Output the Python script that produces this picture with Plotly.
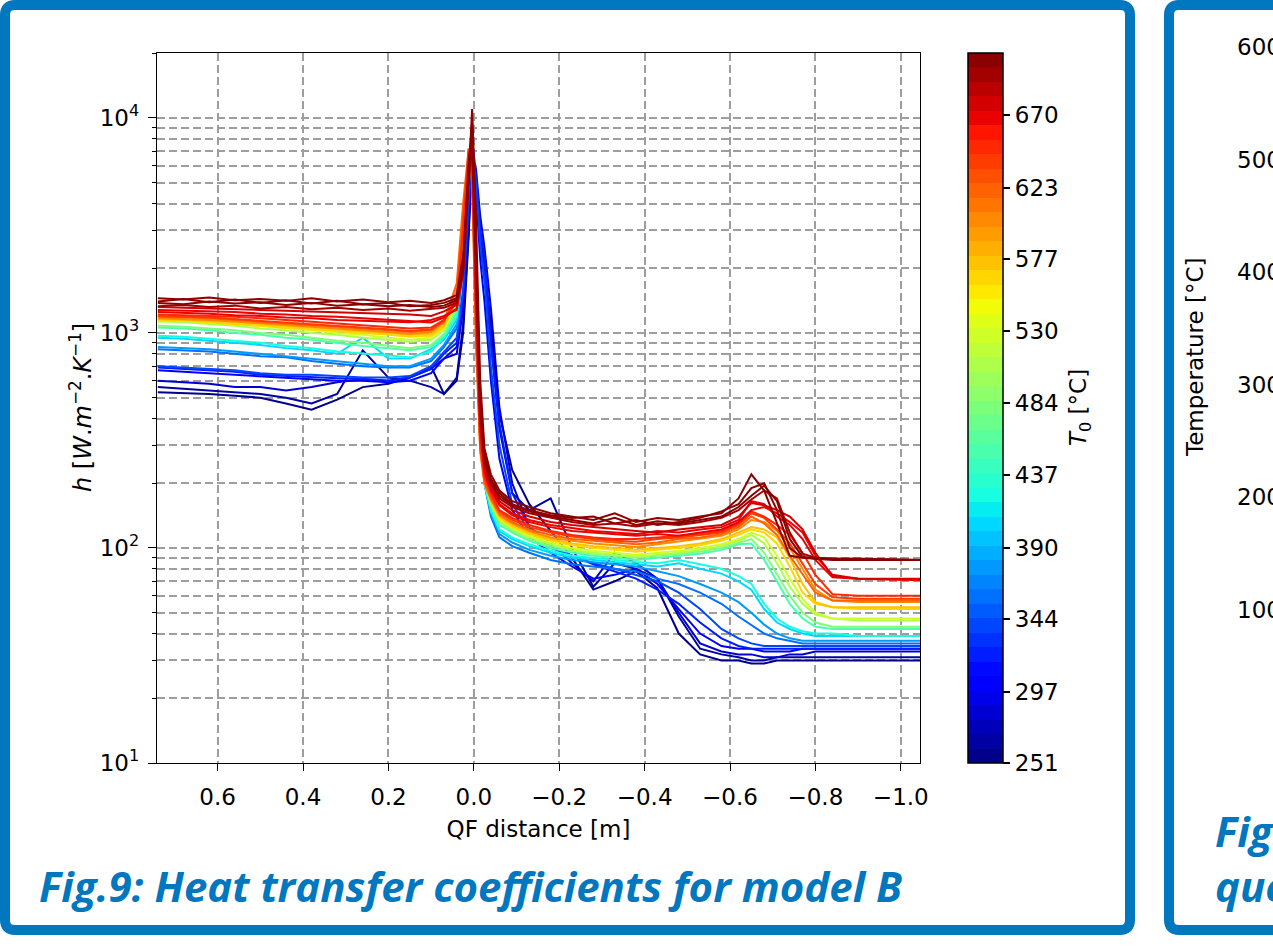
import plotly.graph_objects as go

# ---------------- data ----------------
X_DIST = [0.74, 0.68, 0.62, 0.56, 0.50, 0.44, 0.38, 0.32, 0.26, 0.20, 0.15, 0.10, 0.07,
          0.04, 0.025, 0.012, 0.004, -0.005, -0.015, -0.025, -0.04, -0.06, -0.09,
          -0.13, -0.18, -0.23, -0.28, -0.33, -0.38, -0.43, -0.48, -0.53, -0.58,
          -0.62, -0.65, -0.68, -0.71, -0.74, -0.77, -0.80, -0.84, -0.90, -1.05]

T0_VALUES = [709, 706, 702, 698, 676, 670, 664, 650, 638, 618, 604, 578, 566,
             532, 512, 476, 455, 425, 405, 378, 360, 338, 322, 305, 288, 268, 251]

H_709 = [1450, 1430, 1460, 1420, 1440, 1410, 1450, 1400, 1430, 1390, 1410, 1380, 1420,
         1500, 2300, 5200, 11000, 3500, 600, 290, 220, 185, 165,
         155, 145, 140, 135, 145, 132, 138, 135, 140, 145,
         170, 220, 185, 130, 92, 90, 90, 89, 89, 88]
H_706 = [1400, 1440, 1390, 1430, 1380, 1420, 1370, 1410, 1360, 1380, 1330, 1350, 1380,
         1450, 2100, 6000, 9500, 2500, 480, 270, 210, 180, 160,
         150, 142, 138, 140, 130, 135, 128, 132, 138, 148,
         160, 190, 200, 150, 100, 90, 89, 89, 89, 88]
H_702 = [1380, 1360, 1400, 1370, 1390, 1350, 1380, 1340, 1360, 1330, 1350, 1320, 1340,
         1420, 2000, 5500, 8800, 2200, 450, 260, 205, 175, 158,
         148, 140, 135, 130, 138, 128, 133, 130, 135, 140,
         155, 175, 195, 165, 110, 91, 89, 88, 88, 88]
H_698 = [1330, 1350, 1320, 1340, 1300, 1320, 1290, 1310, 1280, 1300, 1270, 1290, 1310,
         1380, 1900, 4800, 8000, 2000, 420, 250, 200, 170, 155,
         145, 138, 132, 128, 130, 126, 130, 128, 132, 138,
         150, 168, 185, 170, 118, 94, 90, 89, 88, 88]
H_676 = [1320, 1310, 1300, 1300, 1280, 1270, 1260, 1250, 1240, 1230, 1220, 1200, 1260,
         1350, 2100, 6200, 8500, 1800, 400, 240, 195, 165, 150,
         140, 132, 128, 125, 122, 120, 118, 122, 125, 128,
         140, 162, 158, 150, 140, 122, 95, 74, 72, 72]
H_670 = [1280, 1270, 1260, 1250, 1230, 1220, 1200, 1190, 1170, 1150, 1130, 1120, 1180,
         1300, 2000, 5800, 7800, 1600, 380, 230, 190, 160, 145,
         135, 128, 124, 120, 118, 116, 120, 118, 122, 125,
         135, 165, 160, 140, 128, 110, 88, 73, 72, 71]
H_664 = [1250, 1240, 1230, 1210, 1200, 1180, 1170, 1150, 1140, 1130, 1120, 1150, 1200,
         1280, 1900, 5500, 7500, 1500, 360, 225, 185, 158, 142,
         132, 125, 120, 118, 116, 114, 116, 114, 118, 122,
         132, 150, 155, 145, 132, 118, 92, 75, 72, 71]
H_650 = [1220, 1210, 1200, 1190, 1170, 1150, 1130, 1110, 1090, 1070, 1050, 1060, 1150,
         1400, 3000, 7000, 6500, 1200, 320, 215, 180, 150, 138,
         128, 120, 115, 112, 110, 110, 112, 114, 116, 120,
         130, 148, 140, 128, 115, 95, 75, 61, 60, 60]
H_638 = [1200, 1190, 1180, 1160, 1140, 1120, 1100, 1080, 1060, 1040, 1020, 1040, 1140,
         1450, 3200, 7200, 6000, 1100, 300, 210, 175, 148, 135,
         125, 118, 113, 110, 108, 107, 110, 112, 115, 118,
         128, 145, 138, 122, 105, 85, 68, 59, 58, 58]
H_618 = [1190, 1180, 1170, 1150, 1130, 1110, 1090, 1070, 1050, 1030, 1010, 1030, 1130,
         1700, 4000, 7200, 5000, 900, 280, 200, 170, 145, 132,
         122, 115, 110, 108, 106, 104, 106, 110, 112, 116,
         125, 140, 130, 115, 92, 75, 62, 57, 57, 57]
H_604 = [1170, 1160, 1150, 1130, 1110, 1090, 1070, 1050, 1030, 1010, 990, 1010, 1110,
         1600, 3500, 6800, 5500, 1000, 290, 200, 168, 142, 130,
         120, 112, 108, 105, 103, 101, 104, 107, 110, 114,
         122, 135, 132, 120, 100, 80, 64, 57, 56, 56]
H_578 = [1160, 1150, 1140, 1120, 1100, 1080, 1060, 1040, 1020, 1000, 980, 990, 1080,
         1500, 3200, 6500, 6000, 1100, 300, 205, 168, 140, 128,
         118, 110, 105, 102, 100, 98, 100, 102, 105, 110,
         118, 125, 122, 112, 90, 68, 56, 53, 53, 53]
H_566 = [1150, 1140, 1120, 1100, 1080, 1060, 1040, 1020, 1000, 980, 960, 970, 1060,
         1450, 3000, 6200, 6200, 1200, 310, 205, 165, 138, 126,
         116, 108, 103, 100, 98, 96, 98, 100, 103, 108,
         115, 122, 118, 105, 82, 62, 55, 53, 52, 52]
H_532 = [1150, 1140, 1120, 1100, 1080, 1050, 1030, 1000, 980, 950, 930, 950, 1050,
         1400, 2800, 6000, 6500, 1300, 320, 205, 165, 136, 124,
         114, 106, 100, 97, 95, 93, 95, 97, 100, 104,
         110, 118, 112, 92, 72, 58, 50, 47, 47, 47]
H_512 = [1130, 1120, 1100, 1080, 1050, 1030, 1000, 980, 950, 930, 910, 930, 1030,
         1350, 2700, 5800, 6800, 1400, 330, 205, 162, 134, 122,
         112, 104, 98, 95, 93, 91, 93, 95, 98, 102,
         108, 115, 105, 85, 66, 55, 49, 47, 46, 46]
H_476 = [1080, 1070, 1050, 1030, 1000, 980, 950, 920, 900, 870, 850, 880, 990,
         1300, 2600, 5500, 7000, 1500, 330, 200, 160, 132, 120,
         110, 102, 97, 94, 92, 90, 92, 94, 96, 100,
         106, 110, 95, 75, 60, 50, 45, 43, 43, 43]
H_455 = [1060, 1050, 1030, 1000, 980, 950, 930, 900, 870, 850, 830, 860, 970,
         1250, 2500, 5200, 7200, 1600, 340, 200, 158, 128, 118,
         108, 100, 95, 92, 90, 88, 90, 92, 94, 98,
         104, 105, 88, 70, 55, 47, 43, 42, 42, 42]
H_425 = [970, 960, 940, 920, 900, 870, 850, 820, 800, 780, 770, 820, 950,
         1200, 2400, 5200, 7300, 1800, 350, 200, 150, 122, 112,
         104, 97, 92, 90, 88, 86, 85, 88, 84, 80,
         74, 68, 55, 47, 43, 41, 40, 40, 39, 39]
H_405 = [950, 940, 920, 900, 880, 850, 830, 800, 950, 760, 760, 840, 930,
         1150, 2300, 5000, 7500, 2000, 370, 200, 148, 120, 110,
         102, 95, 90, 88, 86, 84, 82, 85, 80, 76,
         70, 64, 52, 45, 42, 40, 39, 39, 39, 39]
H_378 = [860, 850, 840, 820, 800, 780, 760, 740, 720, 700, 700, 760, 880,
         1100, 2200, 5000, 7600, 2200, 400, 200, 145, 116, 106,
         98, 92, 88, 86, 84, 82, 78, 74, 68, 62,
         56, 50, 44, 40, 38, 37, 37, 37, 37, 37]
H_360 = [840, 830, 820, 800, 780, 770, 740, 720, 700, 690, 690, 740, 860,
         1050, 2100, 4800, 7800, 2400, 420, 200, 140, 112, 102,
         95, 88, 84, 82, 80, 78, 72, 68, 62, 55,
         48, 44, 40, 38, 37, 36, 36, 36, 36, 36]
H_338 = [700, 690, 680, 670, 650, 640, 640, 630, 620, 620, 630, 700, 820,
         950, 1600, 4000, 7500, 5000, 2600, 1800, 700, 300, 160,
         120, 100, 92, 85, 80, 75, 70, 62, 52, 42,
         38, 36, 35, 35, 35, 35, 35, 35, 35, 35]
H_322 = [690, 680, 670, 660, 640, 630, 620, 615, 610, 600, 620, 680, 800,
         900, 1500, 3800, 8000, 5500, 3000, 2300, 900, 380, 180,
         125, 102, 92, 84, 78, 72, 64, 55, 45, 38,
         35, 34, 34, 34, 34, 34, 34, 34, 34, 34]
H_305 = [670, 660, 650, 640, 630, 620, 610, 600, 600, 590, 600, 650, 760,
         860, 1400, 3500, 7000, 4500, 2200, 1400, 600, 260, 150,
         112, 95, 82, 72, 75, 80, 68, 52, 40, 35,
         34, 34, 33, 33, 33, 34, 34, 34, 34, 34]
H_288 = [600, 590, 580, 560, 560, 540, 560, 590, 610, 600, 620, 680, 760,
         800, 1300, 3200, 6500, 5800, 3500, 2500, 1300, 450, 200,
         125, 105, 85, 70, 95, 85, 72, 50, 36, 33,
         32, 32, 31, 31, 32, 32, 33, 33, 33, 33]
H_268 = [560, 550, 540, 530, 520, 500, 470, 520, 830, 620, 600, 560, 520,
         620, 1100, 3000, 6800, 4800, 2600, 1800, 900, 360, 180,
         150, 170, 100, 66, 85, 80, 72, 48, 34, 32,
         31, 30, 30, 31, 31, 31, 31, 31, 31, 31]
H_251 = [530, 525, 520, 510, 500, 470, 440, 490, 560, 580, 620, 700, 520,
         600, 1000, 2800, 7200, 5200, 3000, 2000, 1100, 420, 230,
         160, 120, 90, 64, 70, 78, 65, 40, 32, 30,
         30, 29, 29, 30, 30, 30, 30, 30, 30, 30]

H_CURVES = [H_709, H_706, H_702, H_698, H_676, H_670, H_664, H_650, H_638, H_618,
            H_604, H_578, H_566, H_532, H_512, H_476, H_455, H_425, H_405, H_378,
            H_360, H_338, H_322, H_305, H_288, H_268, H_251]

CB_MIN, CB_MAX = 251, 710
CB_TICKS = [251, 297, 344, 390, 437, 484, 530, 577, 623, 670]
X_TICKS = [0.6, 0.4, 0.2, 0.0, -0.2, -0.4, -0.6, -0.8, -1.0]
Y_MAJOR = [10, 100, 1000, 10000]
RIGHT_PANEL_TICKS = ["600", "500", "400", "300", "200", "100"]

# ---------------- styling helpers ----------------
def _interp(pts, f):
    for (x0, y0), (x1, y1) in zip(pts[:-1], pts[1:]):
        if x0 <= f <= x1:
            return y0 + (y1 - y0) * (f - x0) / (x1 - x0)
    return pts[-1][1]


def jet(f):
    f = min(max(f, 0.0), 1.0)
    r = _interp([(0, 0), (0.35, 0), (0.66, 1), (0.89, 1), (1, 0.5)], f)
    g = _interp([(0, 0), (0.125, 0), (0.375, 1), (0.64, 1), (0.91, 0), (1, 0)], f)
    b = _interp([(0, 0.5), (0.11, 1), (0.34, 1), (0.65, 0), (1, 0)], f)
    return "rgb(%d,%d,%d)" % (round(r * 255), round(g * 255), round(b * 255))


NBANDS = 49
colorscale = []
for i in range(NBANDS):
    c = jet((i + 0.5) / NBANDS)
    colorscale.append([i / NBANDS, c])
    colorscale.append([(i + 1) / NBANDS, c])


def band_color(t):
    f = (t - CB_MIN) / (CB_MAX - CB_MIN)
    idx = min(int(f * NBANDS), NBANDS - 1)
    return jet((idx + 0.5) / NBANDS)


W, H = 1273, 946
L, R, T, B = 157, 920, 53, 763


def px(xp):
    return (xp - L) / (R - L)


def py(yp):
    return (B - yp) / (B - T)


FONT = "DejaVu Sans"
FS = 23
BLUE = "#0077BE"

fig = go.Figure()

order = sorted(range(len(T0_VALUES)), key=lambda k: T0_VALUES[k])
for k in order:
    fig.add_trace(go.Scatter(
        x=X_DIST, y=H_CURVES[k], mode="lines",
        line=dict(color=band_color(T0_VALUES[k]), width=2),
        hoverinfo="skip", showlegend=False))

# colorbar carrier
fig.add_trace(go.Scatter(
    x=[None], y=[None], mode="markers", showlegend=False, hoverinfo="skip",
    marker=dict(color=[CB_MIN, CB_MAX], cmin=CB_MIN, cmax=CB_MAX,
                colorscale=colorscale, showscale=True,
                colorbar=dict(
                    x=px(968), xanchor="left", xpad=0, ypad=0,
                    y=0.5, yanchor="middle", len=1, lenmode="fraction",
                    thickness=35, thicknessmode="pixels",
                    outlinecolor="black", outlinewidth=1.5,
                    tickvals=CB_TICKS, ticktext=[str(v) for v in CB_TICKS],
                    ticks="outside", ticklen=7, tickwidth=1.5, tickcolor="black",
                    tickfont=dict(family=FONT, size=FS, color="black"),
                ))))

minor_vals = []
for dec in [10, 100, 1000, 10000]:
    for m in range(2, 10):
        minor_vals.append(m * dec)

GRIDC = "rgb(158,158,158)"
GDASH = "8px,4px"
fig.update_xaxes(
    range=[0.742, -1.045], tickvals=X_TICKS,
    ticktext=[("%.1f" % v).replace("-", "\u2212") if v != 0 else "0.0" for v in X_TICKS],
    showgrid=True, gridcolor=GRIDC, griddash=GDASH, gridwidth=1.5,
    zeroline=False, showline=True, linecolor="black", linewidth=1.4, mirror=True,
    ticks="outside", ticklen=7, tickwidth=1.4, tickcolor="black",
    ticklabelstandoff=6,
    tickfont=dict(family=FONT, size=FS, color="black"),
    title=dict(text="QF distance [m]", font=dict(family=FONT, size=FS, color="black"),
               standoff=12),
)
fig.update_yaxes(
    type="log", range=[1, 4.302], tickvals=Y_MAJOR,
    ticktext=["10<sup>1</sup>", "10<sup>2</sup>", "10<sup>3</sup>", "10<sup>4</sup>"],
    showgrid=True, gridcolor=GRIDC, griddash=GDASH, gridwidth=1.5,
    zeroline=False, showline=True, linecolor="black", linewidth=1.4, mirror=True,
    ticks="outside", ticklen=8, tickwidth=1.4, tickcolor="black",
    ticklabelstandoff=4,
    tickfont=dict(family=FONT, size=FS, color="black"),
    minor=dict(tickvals=minor_vals, ticks="outside", ticklen=4, tickwidth=1.2,
               tickcolor="black", showgrid=True, gridcolor=GRIDC,
               griddash=GDASH, gridwidth=1.5),
)

annotations = [
    dict(x=px(63), y=0.5, xref="paper", yref="paper", textangle=-90, showarrow=False,
         text="<i>h</i> [<i>W</i>.<i>m</i><sup>\u22122</sup>.<i>K</i><sup>\u22121</sup>]",
         font=dict(family=FONT, size=24, color="black")),
    dict(x=px(1097), y=py(408), xref="paper", yref="paper", textangle=-90, showarrow=False,
         text="<i>T</i><sub>0</sub> [°C]",
         font=dict(family=FONT, size=FS, color="black")),
    dict(x=px(37), y=py(885), xref="paper", yref="paper", xanchor="left", yanchor="middle",
         showarrow=False,
         text="<b><i>Fig.9: Heat transfer coefficients for model B</i></b>",
         font=dict(family="Open Sans", size=42, color=BLUE)),
    dict(x=px(1210), y=py(357), xref="paper", yref="paper", textangle=-90, showarrow=False,
         text="Temperature [°C]", font=dict(family=FONT, size=FS, color="black")),
    dict(x=px(1213), y=py(830), xref="paper", yref="paper", xanchor="left", yanchor="middle",
         showarrow=False, text="<b><i>Fig.10</i></b>",
         font=dict(family="Open Sans", size=42, color=BLUE)),
    dict(x=px(1213), y=py(885), xref="paper", yref="paper", xanchor="left", yanchor="middle",
         showarrow=False, text="<b><i>quench</i></b>",
         font=dict(family="Open Sans", size=42, color=BLUE)),
]
for lbl, yp in zip(RIGHT_PANEL_TICKS, [47, 160, 272, 385, 497, 610]):
    annotations.append(dict(x=px(1235), y=py(yp), xref="paper", yref="paper",
                            xanchor="left", yanchor="middle", showarrow=False, text=lbl,
                            font=dict(family=FONT, size=FS, color="black")))


def rounded_rect(x0, y0, x1, y1, r):
    X0, X1 = px(x0), px(x1)
    Y0, Y1 = py(y0), py(y1)
    rx = r / (R - L)
    ry = r / (B - T)
    return ("M %f,%f L %f,%f Q %f,%f %f,%f L %f,%f Q %f,%f %f,%f "
            "L %f,%f Q %f,%f %f,%f L %f,%f Q %f,%f %f,%f Z") % (
        X0 + rx, Y0, X1 - rx, Y0, X1, Y0, X1, Y0 - ry,
        X1, Y1 + ry, X1, Y1, X1 - rx, Y1,
        X0 + rx, Y1, X0, Y1, X0, Y1 + ry,
        X0, Y0 - ry, X0, Y0, X0 + rx, Y0)


shapes = [
    dict(type="path", xref="paper", yref="paper", path=rounded_rect(5, 5, 1130, 930, 10),
         line=dict(color=BLUE, width=10), layer="above"),
    dict(type="path", xref="paper", yref="paper", path=rounded_rect(1169, 5, 1320, 930, 10),
         line=dict(color=BLUE, width=10), layer="above"),
]

fig.update_layout(
    width=W, height=H,
    margin=dict(l=L, r=W - R, t=T, b=H - B, pad=0),
    paper_bgcolor="white", plot_bgcolor="white",
    showlegend=False,
    annotations=annotations, shapes=shapes,
    font=dict(family=FONT, size=FS, color="black"),
)

fig.write_html("out.html")
